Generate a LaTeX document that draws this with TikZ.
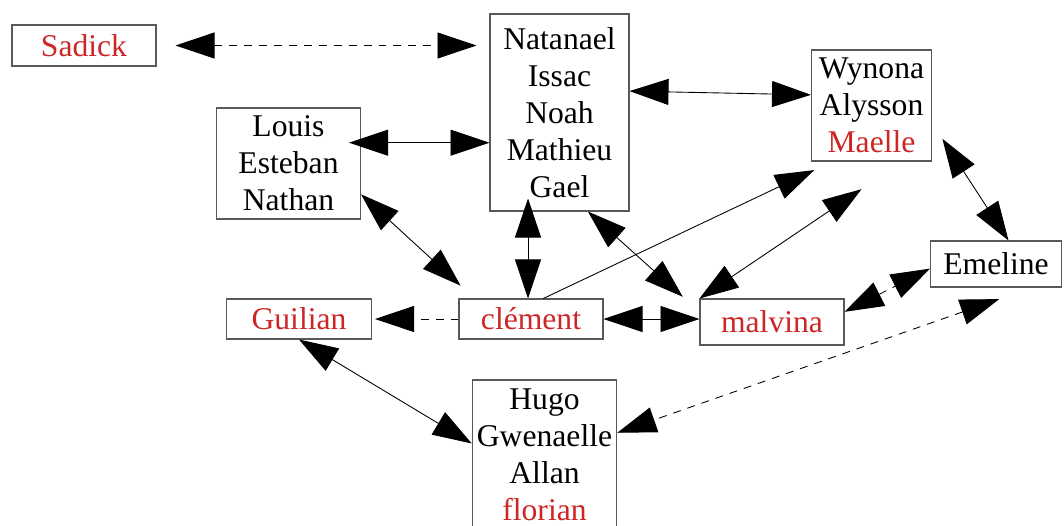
\documentclass[tikz,border=0pt]{standalone}
\usepackage{fontspec}
\setmainfont{Liberation Serif}
\usetikzlibrary{arrows.meta}
\definecolor{namered}{RGB}{205,38,38}
\tikzset{
  person/.style={draw=black!65, line width=0.6pt, inner sep=0pt, align=center,
    font=\fontsize{18}{21.05}\selectfont},
  link/.style={line width=0.5pt},
  linkdash/.style={dash pattern=on 4.5pt off 4pt}
}

\begin{document}
\begin{tikzpicture}[x=0.02cm,y=-0.02cm,>={Triangle[length=7.8mm,width=5.2mm]}]
        \useasboundingbox (0,0) rectangle (1064,525);
        % groups
        \node[person,minimum width=2.88cm,minimum height=0.82cm] (sad) at (84,45.5) {\textcolor{namered}{Sadick}};
        \node[person,minimum width=2.78cm,minimum height=3.94cm] (nat) at (559.5,112.5) {Natanael\\Issac\\Noah\\Mathieu\\Gael};
        \node[person,minimum width=2.88cm,minimum height=2.22cm] (lou) at (288.5,163.5) {Louis\\Esteban\\Nathan};
        \node[person,minimum width=2.40cm,minimum height=2.22cm] (wyn) at (871.5,105.5) {Wynona\\Alysson\\\textcolor{namered}{Maelle}};
        \node[person,minimum width=2.62cm,minimum height=0.92cm] (eme) at (996,264) {Emeline};
        \node[person,minimum width=2.88cm,minimum height=0.92cm] (mal) at (772,322) {\textcolor{namered}{malvina}};
        \node[person,minimum width=2.88cm,minimum height=0.80cm] (cle) at (531,319) {\textcolor{namered}{clément}};
        \node[person,minimum width=2.90cm,minimum height=0.80cm] (gui) at (299,319) {\textcolor{namered}{Guilian}};
        \node[person,minimum width=2.89cm,minimum height=3.00cm] (hug) at (544.5,455) {Hugo\\Gwenaelle\\Allan\\\textcolor{namered}{florian}};
        % links
        \draw[link,<->,linkdash,shorten <=0.38cm,shorten >=0.26cm] (sad.east) -- (sad.east -| nat.west);
        \draw[link,<->,shorten <=-0.24cm] (lou.16) -- (lou.16 -| nat.west);
        \draw[link,<->] (nat.17) -- (wyn.170);
        \draw[link,<->,shorten <=0.38cm] (wyn.-16) -- (eme.62);
        \draw[link,<->,shorten >=-0.26cm] ([xshift=-0.06cm]cle.north) -- ([xshift=-0.06cm]cle.north |- nat.south);
        \draw[link,<->,shorten >=0.38cm] (lou.-23) -- (cle.160);
        \draw[link,->,shorten >=0.4cm] (cle.59) -- (wyn.235);
        \draw[link,<->,shorten >=0.45cm] (nat.-74) -- (mal.172);
        \draw[link,<->,shorten >=0.99cm] (mal.north west) -- (wyn.-61);
        \draw[link,<->] (cle.east) -- (cle.east -| mal.west);
        \draw[link,->,linkdash,shorten >=0.06cm] (cle.west) -- (cle.west -| gui.east);
        \draw[link,<->,linkdash] (mal.8) -- (eme.184);
        \draw[link,<->,linkdash,shorten <=0.70cm] (eme.-33) -- (hug.17);
        \draw[link,<->] (gui.south) -- (hug.171);
\end{tikzpicture}
\end{document}
